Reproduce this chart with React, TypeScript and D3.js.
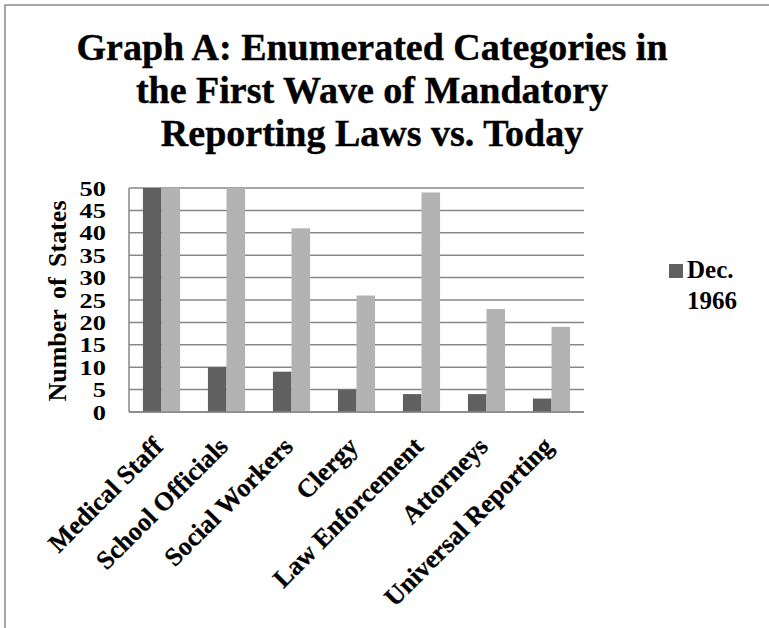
import React, { useEffect, useRef } from "react";
import * as d3 from "d3";

// categories and values
const categories = [
	"Medical Staff",
	"School Officials",
	"Social Workers",
	"Clergy",
	"Law Enforcement",
	"Attorneys",
	"Universal Reporting",
];
const dec1966 = [50, 10, 9, 5, 4, 4, 3];
const today = [50, 50, 41, 26, 49, 23, 19];
const seriesNames = ["Dec. 1966", "Today"];
const seriesColors = ["#606060", "#b3b3b3"];
const yTicks = [0, 5, 10, 15, 20, 25, 30, 35, 40, 45, 50];
const titleLines = [
	"Graph A: Enumerated Categories in",
	"the First Wave of Mandatory",
	"Reporting Laws vs. Today",
];

const FONT = "'Liberation Serif', 'Times New Roman', serif";

export default function App() {
	const ref = useRef<SVGSVGElement>(null);
	const width = 769;
	const height = 628;

	useEffect(() => {
		const svg = d3.select(ref.current);
		svg.selectAll("*").remove();

		const left = 129,
			right = 584,
			top = 188,
			bottom = 412;

		// outer frame (runs past the picture on the right and bottom)
		svg.append("rect")
			.attr("x", 5)
			.attr("y", 5)
			.attr("width", 900)
			.attr("height", 900)
			.attr("fill", "none")
			.attr("stroke", "#8a8a8a")
			.attr("stroke-width", 1.5);

		// title
		svg.append("text")
			.attr("font-family", FONT)
			.attr("font-weight", "bold")
			.attr("font-size", 38)
			.attr("stroke", "#000")
			.attr("stroke-width", 0.4)
			.attr("text-anchor", "middle")
			.selectAll("tspan")
			.data(titleLines)
			.enter()
			.append("tspan")
			.attr("x", 372)
			.attr("y", (d, i) => 60 + i * 43)
			.text((d) => d);

		const x0 = d3.scaleBand().domain(categories).range([left, right]);
		const groupW = (x0.bandwidth() * 2) / 3.5;
		const x1 = d3.scaleBand().domain(seriesNames).range([0, groupW]);
		const y = d3.scaleLinear().domain([0, 50]).range([bottom, top]);

		// gridlines
		svg.append("g")
			.selectAll("line")
			.data(yTicks)
			.enter()
			.append("line")
			.attr("x1", left)
			.attr("x2", right)
			.attr("y1", (d) => y(d))
			.attr("y2", (d) => y(d))
			.attr("stroke", "#878787")
			.attr("stroke-width", 1.5);

		svg.append("line")
			.attr("x1", left)
			.attr("x2", left)
			.attr("y1", top)
			.attr("y2", bottom)
			.attr("stroke", "#878787")
			.attr("stroke-width", 1.5);

		// bars
		const rows = categories.map((c, i) => ({ c, vals: [dec1966[i], today[i]] }));
		const groups = svg.append("g")
			.selectAll("g")
			.data(rows)
			.enter()
			.append("g")
			.attr("transform", (d) => `translate(${x0(d.c)! + (x0.bandwidth() - groupW) / 2},0)`);
		groups.selectAll("rect")
			.data((d) => d.vals.map((v, k) => ({ v, k })))
			.enter()
			.append("rect")
			.attr("x", (d) => x1(seriesNames[d.k])!)
			.attr("y", (d) => y(d.v))
			.attr("width", x1.bandwidth())
			.attr("height", (d) => bottom - y(d.v))
			.attr("fill", (d) => seriesColors[d.k]);

		// bottom axis line on top of bars
		svg.append("line")
			.attr("x1", left)
			.attr("x2", right)
			.attr("y1", bottom)
			.attr("y2", bottom)
			.attr("stroke", "#878787")
			.attr("stroke-width", 1.5);

		// y tick labels (tight, as in the original)
		svg.append("g")
			.selectAll("text")
			.data(yTicks)
			.enter()
			.append("text")
			.attr("transform", (d) => `translate(106,${y(d) + 7.5}) scale(1.2,1)`)
			.attr("text-anchor", "end")
			.attr("font-family", FONT)
			.attr("font-weight", "bold")
			.attr("font-size", 22)
			.text((d) => d);

		// y axis title
		svg.append("text")
			.attr("transform", "translate(66,301) rotate(-90)")
			.attr("text-anchor", "middle")
			.attr("font-family", FONT)
			.attr("font-weight", "bold")
			.attr("font-size", 26)
			.attr("word-spacing", 4)
			.text("Number of States");

		// x labels
		svg.append("g")
			.selectAll("text")
			.data(categories)
			.enter()
			.append("text")
			.attr("transform", (d) => `translate(${x0(d)! + x0.bandwidth() / 2 + 3},448) rotate(-45)`)
			.attr("text-anchor", "end")
			.attr("font-family", FONT)
			.attr("font-weight", "bold")
			.attr("font-size", 26)
			.attr("stroke", "#000")
			.attr("stroke-width", 0.3)
			.text((d) => d);

		// legend (only the first entry is visible in the original)
		svg.append("rect")
			.attr("x", 669)
			.attr("y", 264)
			.attr("width", 14)
			.attr("height", 14)
			.attr("fill", seriesColors[0]);
		svg.append("text")
			.attr("font-family", FONT)
			.attr("font-weight", "bold")
			.attr("font-size", 25)
			.selectAll("tspan")
			.data(seriesNames[0].split(" "))
			.enter()
			.append("tspan")
			.attr("x", 687)
			.attr("y", (d, i) => 278 + i * 31)
			.text((d) => d);
	}, []);

	return (
		<svg
			ref={ref}
			width={width}
			height={height}
			style={{ position: "absolute", left: 0, top: 0, background: "#fff" }}
		></svg>
	);
}
